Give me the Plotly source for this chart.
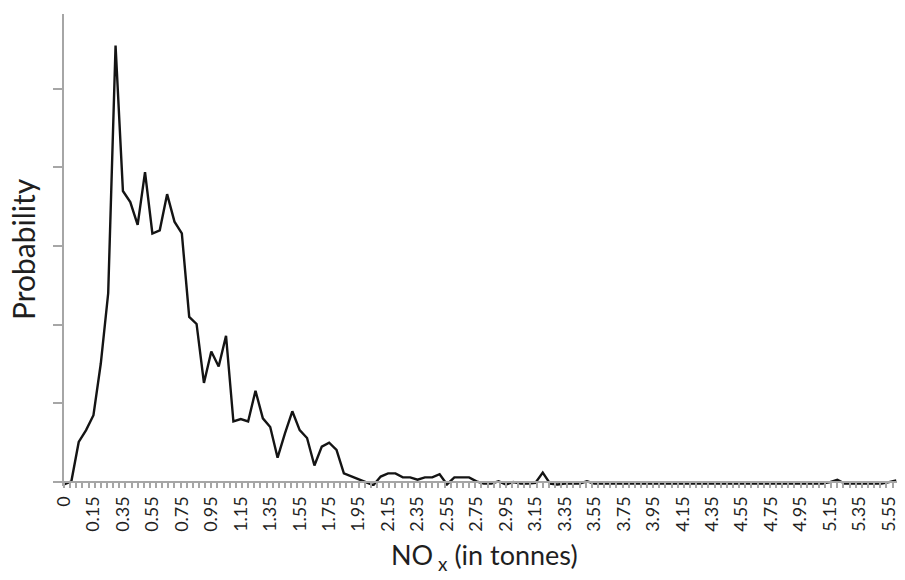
import plotly.graph_objects as go

# category index along the NOx axis (bins of 0.05 t)
cats = list(range(114))

# tick labels shown every 4th category
tick_idx = list(range(0, 113, 4))
tick_text = ["0", "0.15", "0.35", "0.55", "0.75", "0.95", "1.15", "1.35", "1.55", "1.75",
             "1.95", "2.15", "2.35", "2.55", "2.75", "2.95", "3.15", "3.35", "3.55", "3.75",
             "3.95", "4.15", "4.35", "4.55", "4.75", "4.95", "5.15", "5.35", "5.55"]

# probability (in %)
prob = [-0.03, 0.01, 0.51, 0.66, 0.85, 1.51, 2.40, 5.55, 3.70, 3.56,
        3.27, 3.94, 3.16, 3.20, 3.66, 3.31, 3.16, 2.10, 2.01, 1.26,
        1.66, 1.47, 1.86, 0.77, 0.80, 0.77, 1.16, 0.81, 0.70, 0.31,
        0.62, 0.90, 0.66, 0.56, 0.21, 0.45, 0.50, 0.41, 0.11, 0.07,
        0.03, 0.00, -0.04, 0.07, 0.11, 0.11, 0.06, 0.06, 0.03, 0.06,
        0.06, 0.10, -0.03, 0.06, 0.06, 0.06, 0.01, -0.02, -0.02, 0.01,
        -0.03, 0.00, -0.02, -0.02, -0.01, 0.12, -0.02, -0.03, -0.02, -0.02,
        -0.02, 0.01, -0.02, -0.02, -0.02, -0.02, -0.02, -0.02, -0.02, -0.02,
        -0.02, -0.02, -0.02, -0.02, -0.02, -0.02, -0.02, -0.02, -0.02, -0.02,
        -0.02, -0.02, -0.02, -0.02, -0.02, -0.02, -0.02, -0.02, -0.02, -0.02,
        -0.02, -0.02, -0.02, -0.02, 0.00, 0.03, -0.02, -0.02, -0.02, -0.02,
        -0.02, -0.02, 0.00, 0.02]

AXIS = "#A6A6A6"
FONT = "Lato"
TXT = "#1f1f1f"

fig = go.Figure()
fig.add_trace(go.Scatter(x=cats, y=prob, mode="lines",
                         line=dict(color="#141414", width=2.4),
                         showlegend=False, hoverinfo="skip"))

# the page body has an 8px margin; the figure is sized so nothing overflows
W, H = 889, 564
L, T, B = 56, 6, 86
PW = W - L          # plot width in px
PH = H - T - B      # plot height in px
OFF = 8

ymin, ymax = -0.05, 5.95
fig.update_layout(
    width=W, height=H,
    margin=dict(l=L, r=0, t=T, b=B),
    paper_bgcolor="white", plot_bgcolor="white",
    font=dict(family=FONT, color=TXT),
    xaxis=dict(range=[0, 113.1], anchor="free", position=(0 - ymin) / (ymax - ymin),
               automargin=False,
               showline=True, linecolor=AXIS, linewidth=2,
               showgrid=False, zeroline=False,
               tickmode="array", tickvals=tick_idx, ticktext=tick_text,
               tickangle=-90, ticks="", ticklabelstandoff=6,
               ticklabeloverflow="allow",
               tickfont=dict(family=FONT, size=18, color=TXT),
               minor=dict(ticks="outside", tickmode="linear", tick0=0, dtick=5/6,
                          ticklen=5, tickwidth=1.5, tickcolor=AXIS, showgrid=False)),
    yaxis=dict(range=[ymin, ymax], automargin=False,
               showline=True, linecolor=AXIS, linewidth=2,
               showgrid=False, zeroline=False,
               tickmode="array", tickvals=[0, 1, 2, 3, 4, 5],
               ticks="outside", ticklen=9, tickwidth=2, tickcolor=AXIS,
               showticklabels=False),
    annotations=[
        dict(text="Probability", textangle=-90, xref="paper", yref="paper",
             x=(23 - OFF - L) / PW, y=(T + PH - (249 - OFF)) / PH,
             xanchor="center", yanchor="middle",
             showarrow=False, font=dict(family=FONT, size=30, color=TXT)),
        dict(text="NO<sub> x</sub> (in tonnes)", xref="paper", yref="paper",
             x=(484 - OFF - L) / PW, y=(T + PH - (556 - OFF)) / PH,
             xanchor="center", yanchor="middle",
             showarrow=False, font=dict(family=FONT, size=27, color=TXT)),
    ],
)

fig.write_html("out.html")
